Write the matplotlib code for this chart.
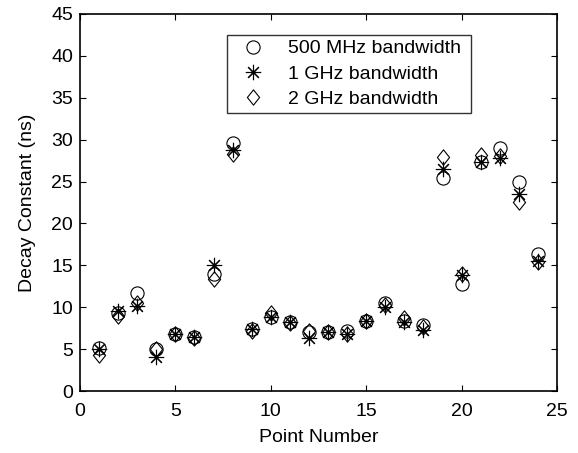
import numpy as np
import matplotlib
matplotlib.use("Agg")
from matplotlib import pyplot as plt
from matplotlib.path import Path

plt.rcParams['font.family'] = ['Liberation Sans', 'DejaVu Sans']

# Data
points = list(range(1, 25))
bw_500mhz = [5.1, 9.3, 11.7, 5.0, 6.8, 6.5, 14.0, 29.6, 7.4, 8.8, 8.2, 7.1,
             7.0, 7.2, 8.4, 10.5, 8.4, 7.9, 25.4, 12.8, 27.3, 29.0, 24.9, 16.4]
bw_1ghz = [5.0, 9.6, 10.1, 4.1, 6.8, 6.5, 15.0, 28.8, 7.4, 8.8, 8.2, 6.3,
           7.0, 6.8, 8.4, 10.0, 8.2, 7.3, 26.5, 13.8, 27.3, 27.8, 23.5, 15.5]
bw_2ghz = [4.3, 9.0, 10.5, 5.0, 6.8, 6.3, 13.4, 28.3, 7.2, 9.3, 8.1, 7.2,
           7.0, 6.8, 8.3, 10.3, 8.7, 7.6, 27.9, 14.0, 28.2, 28.0, 22.6, 15.4]

# diamond a bit taller than wide, like the matlab one
diamond = Path([(0, 1), (0.8, 0), (0, -1), (-0.8, 0), (0, 1)],
               [Path.MOVETO, Path.LINETO, Path.LINETO, Path.LINETO, Path.CLOSEPOLY])

fig = plt.figure(figsize=(5.78, 4.53), dpi=100)
ax = fig.add_axes([80/578, 1-391/453, 477/578, 377/453])

ax.plot(points, bw_500mhz, linestyle="none", marker="o", markersize=9.5,
        markerfacecolor="none", markeredgecolor="black", markeredgewidth=0.8,
        label="500 MHz bandwidth ")
ax.plot(points, bw_1ghz, linestyle="none", marker=(8, 2, 0), markersize=11,
        color="black", markeredgewidth=0.8, label="1 GHz bandwidth")
ax.plot(points, bw_2ghz, linestyle="none", marker=diamond, markersize=11,
        markerfacecolor="none", markeredgecolor="black", markeredgewidth=0.8,
        label="2 GHz bandwidth")

ax.set_xlim(0, 25)
ax.set_ylim(0, 45)
ax.set_xticks([0, 5, 10, 15, 20, 25])
ax.set_yticks(range(0, 46, 5))
ax.tick_params(direction="in", labelsize=14, length=4, top=True, right=True)
ax.tick_params(axis="x", pad=9)
ax.tick_params(axis="y", pad=5)
for s in ax.spines.values():
    s.set_linewidth(1.2)
ax.set_xlabel("Point Number", fontsize=14, labelpad=6)
ax.set_ylabel("Decay Constant (ns)", fontsize=14, labelpad=11)

leg = ax.legend(loc="upper left", bbox_to_anchor=(147/477, 1-21/377), fontsize=14,
                frameon=True, fancybox=False, edgecolor="black",
                borderpad=0.25, labelspacing=0.4, handletextpad=0.7,
                handlelength=2.2, borderaxespad=0)
leg.get_frame().set_linewidth(1.0)

fig.savefig("out.png", dpi=100)
